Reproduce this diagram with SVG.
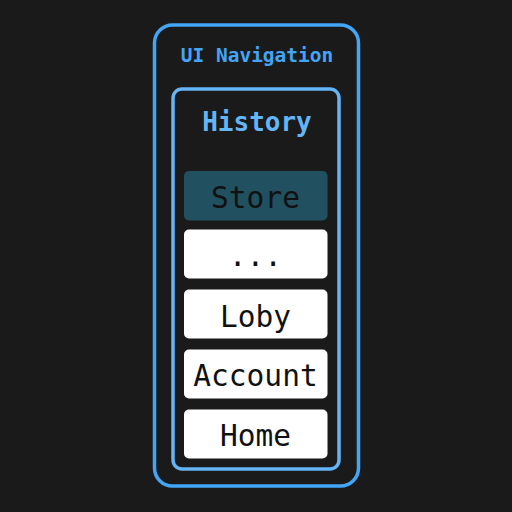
<svg xmlns="http://www.w3.org/2000/svg" width="512" height="512" viewBox="0 0 512 512">
  <style>
    .mono { font-family: "DejaVu Sans Mono", "Liberation Mono", monospace; text-anchor: middle; }
    .item { fill: #ffffff; }
    .label { font-size: 29.5px; fill: #111111; }
  </style>
  <rect x="0" y="0" width="512" height="512" fill="#1a1a1a"/>
  <g id="ui-navigation">
    <rect x="154.5" y="25" width="204" height="461" rx="18" fill="none" stroke="#42a5f5" stroke-width="3.5"/>
    <text class="mono" x="257" y="62" font-size="19.5" font-weight="bold" fill="#42a5f5">UI Navigation</text>
  </g>
  <g id="history">
    <rect x="173" y="89" width="166" height="380" rx="9" fill="none" stroke="#64b5f6" stroke-width="3.5"/>
    <text class="mono" x="257" y="131" font-size="26" font-weight="bold" fill="#64b5f6">History</text>
  </g>
  <g id="store">
    <rect x="184" y="171" width="143.5" height="49.5" rx="5" fill="#215060"/>
    <text class="mono label" x="255.5" y="208">Store</text>
  </g>
  <g id="ellipsis">
    <rect class="item" x="184" y="229.5" width="143.5" height="49" rx="5"/>
    <text class="mono label" x="255.5" y="266">...</text>
  </g>
  <g id="loby">
    <rect class="item" x="184" y="289.5" width="143.5" height="49" rx="5"/>
    <text class="mono label" x="255.5" y="327">Loby</text>
  </g>
  <g id="account">
    <rect class="item" x="184" y="349.5" width="143.5" height="49" rx="5"/>
    <text class="mono label" x="255.5" y="386">Account</text>
  </g>
  <g id="home">
    <rect class="item" x="184" y="409.5" width="143.5" height="49" rx="5"/>
    <text class="mono label" x="255.5" y="446">Home</text>
  </g>
  <g id="connectors"/>
</svg>
